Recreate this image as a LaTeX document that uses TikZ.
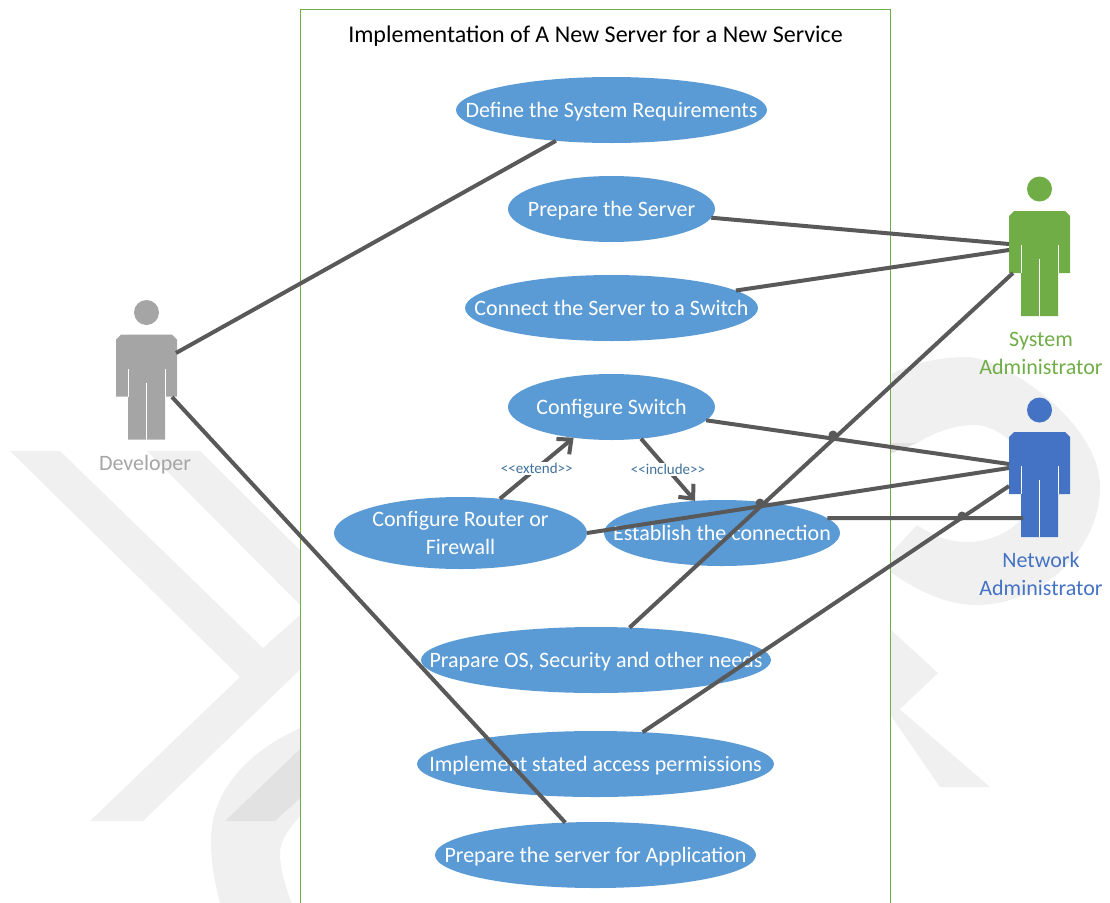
\documentclass[tikz,border=0pt]{standalone}
\usepackage{fontspec}
\setmainfont{Carlito}
\usetikzlibrary{shapes.geometric,arrows.meta}
\definecolor{casefill}{HTML}{5B9BD5}
\definecolor{linegray}{HTML}{595959}
\definecolor{sysgreen}{HTML}{70AD47}
\definecolor{netblue}{HTML}{4472C4}
\definecolor{devgray}{HTML}{A5A5A5}
\definecolor{markgray}{HTML}{F0F0F0}
\definecolor{markdark}{HTML}{E2E2E2}
\definecolor{steretype}{HTML}{41719C}
\begin{document}
\begin{tikzpicture}[
        x=1pt, y=-1pt,
        usecase/.style={ellipse, fill=casefill, inner sep=0pt, outer sep=0pt, minimum height=66pt},
        casetext/.style={text=white, font=\fontsize{22}{28}\selectfont, align=center, inner sep=0pt, text height=19pt, text depth=5pt},
        actorbox/.style={rectangle, inner sep=0pt, outer sep=0pt, minimum width=61pt, minimum height=105pt},
        actorname/.style={font=\fontsize{22}{28}\selectfont, align=center},
        link/.style={linegray, line width=4pt},
        stereo/.style={link, -{Straight Barb[length=11pt,width=20pt]}},
        stereotext/.style={fill=white, text=steretype, font=\fontsize{15}{18}\selectfont, inner sep=1pt},
        jump/.style={circle, fill=linegray, inner sep=0pt, minimum size=9pt},
        pics/actor/.style={code={
            \fill[#1] (0,-22) circle (12.5);
            \fill[#1] (-30.5,5) -- (-25.5,0) -- (25.5,0) -- (30.5,5) -- (30.5,62) -- (18.5,62) -- (18.5,105)
                -- (-18.5,105) -- (-18.5,62) -- (-30.5,62) -- cycle;
            \draw[white, line width=0.8pt] (0,48) -- (0,105) (-18.5,34) -- (-18.5,62) (18.5,34) -- (18.5,62);
        }}
    ]
        \path[use as bounding box] (0,0) rectangle (1110,902);
        \clip (0,0) rectangle (1110,902);

        % Watermark
        \fill[markgray] (10,451) -- (60,451) -- (263,648) -- (310,606) -- (310,660) -- (143,821) -- (90,821) -- (240,677) -- cycle;
        \fill[markgray] (147,451) -- (200,451) -- (320,570) -- (320,625) -- cycle;
        \fill[markgray] (320,720) .. controls (250,745) and (211,790) .. (211,840) .. controls (211,865) and (215,885) .. (222,910)
            -- (294,910) .. controls (285,885) and (280,870) .. (280,853) .. controls (280,840) and (290,825) .. (320,795) -- cycle;
        \fill[markdark] (225,821) -- (275,821) -- (320,780) -- (320,730) -- cycle;
        \fill[markgray] (880,380) .. controls (905,365) and (935,357) .. (967,357) .. controls (1000,357) and (1100,420) .. (1100,487)
            .. controls (1100,550) and (1040,605) .. (977,605) .. controls (945,605) and (915,590) .. (880,565)
            -- (917,525) .. controls (935,537) and (950,542) .. (967,542) .. controls (1000,542) and (1033,520) .. (1033,490)
            .. controls (1033,455) and (1000,425) .. (975,425) .. controls (955,425) and (935,432) .. (917,443) -- (880,443) -- cycle;
        \fill[markdark] (880,443) -- (917,443) -- (880,458) -- cycle;
        \fill[markgray] (880,620) -- (938,673) -- (897,712) -- (880,695) -- cycle;
        \fill[markgray] (880,700) -- (940,787) -- (990,787) -- (897,707) -- cycle;

        % System box
        \draw[sysgreen, fill=white, line width=1pt] (300.5,9.5) rectangle (890,920);
        \node[font=\fontsize{24}{28}\selectfont, text=black] (title) at (595.5,36) {Implementation of A New Server for a New Service};

        % Use cases
        \node[usecase, minimum width=311pt, label={[casetext]center:Define the System Requirements}] (define) at (611.5,110) {};
        \node[usecase, minimum width=207pt, label={[casetext]center:Prepare the Server}] (prepare) at (611.5,209) {};
        \node[usecase, minimum width=293pt, label={[casetext]center:Connect the Server to a Switch}] (connect) at (611.5,308) {};
        \node[usecase, minimum width=207pt, label={[casetext]center:Configure Switch}] (switch) at (611.5,407) {};
        \node[usecase, minimum width=253pt, minimum height=72pt, label={[casetext, text height=47pt, text depth=5pt]center:Configure Router or\\Firewall}] (router) at (460.5,533) {};
        \node[usecase, minimum width=236pt, label={[casetext]center:Establish the connection}] (establish) at (722,533) {};
        \node[usecase, minimum width=350pt, label={[casetext]center:Prapare OS, Security and other needs}] (prepareos) at (596,660) {};
        \node[usecase, minimum width=357pt, label={[casetext]center:Implement stated access permissions}] (implement) at (595.5,764) {};
        \node[usecase, minimum width=321pt, label={[casetext]center:Prepare the server for Application}] (application) at (595.5,855) {};

        % Actors
        \node[actorbox] (dev) at (146.5,387) {};
        \node[actorbox] (sys) at (1039.5,263.5) {};
        \node[actorbox] (net) at (1039.5,484.5) {};
        \pic at (146.5,334.5) {actor=devgray};
        \pic at (1039.5,211) {actor=sysgreen};
        \pic at (1039.5,432) {actor=netblue};
        \node[actorname, text=devgray] (devname) at (145,464.5) {Developer};
        \node[actorname, text=sysgreen] (sysname) at (1041,353) {System\\Administrator};
        \node[actorname, text=netblue] (netname) at (1041,574) {Network\\Administrator};

        % Connectors
        \draw[link] ([yshift=34pt,xshift=-1pt]dev.east) -- (define.209);
        \draw[link] ([yshift=-10pt,xshift=-5pt]dev.east) -- (application.133);
        \draw[link] (prepare.-5) -- ([yshift=19.5pt]sys.west);
        \draw[link] (connect.8) -- ([yshift=13.5pt]sys.west);
        \draw[link] (prepareos.44) -- ([yshift=-9.5pt,xshift=4pt]sys.west);
        \draw[link] (switch.-8) -- ([yshift=20.5pt]net.west);
        \draw[link] (router.east) -- ([yshift=16.5pt]net.west);
        \draw[link] (establish.8) -- ([yshift=-33.5pt,xshift=14pt]net.west);
        \draw[link] (implement.34) -- ([yshift=-1.5pt]net.west);
        \draw[stereo] (router.41) -- node[stereotext] (extend) {<{}<extend>{}>} (switch.-141);
        \draw[stereo] (switch.-47) -- node[stereotext] (include) {<{}<include>{}>} (establish.130);

        % Line jumps
        \node[jump] (jumpa) at (833,435) {};
        \node[jump] (jumpb) at (760,503) {};
        \node[jump] (jumpc) at (962,516) {};
    \end{tikzpicture}
\end{document}
